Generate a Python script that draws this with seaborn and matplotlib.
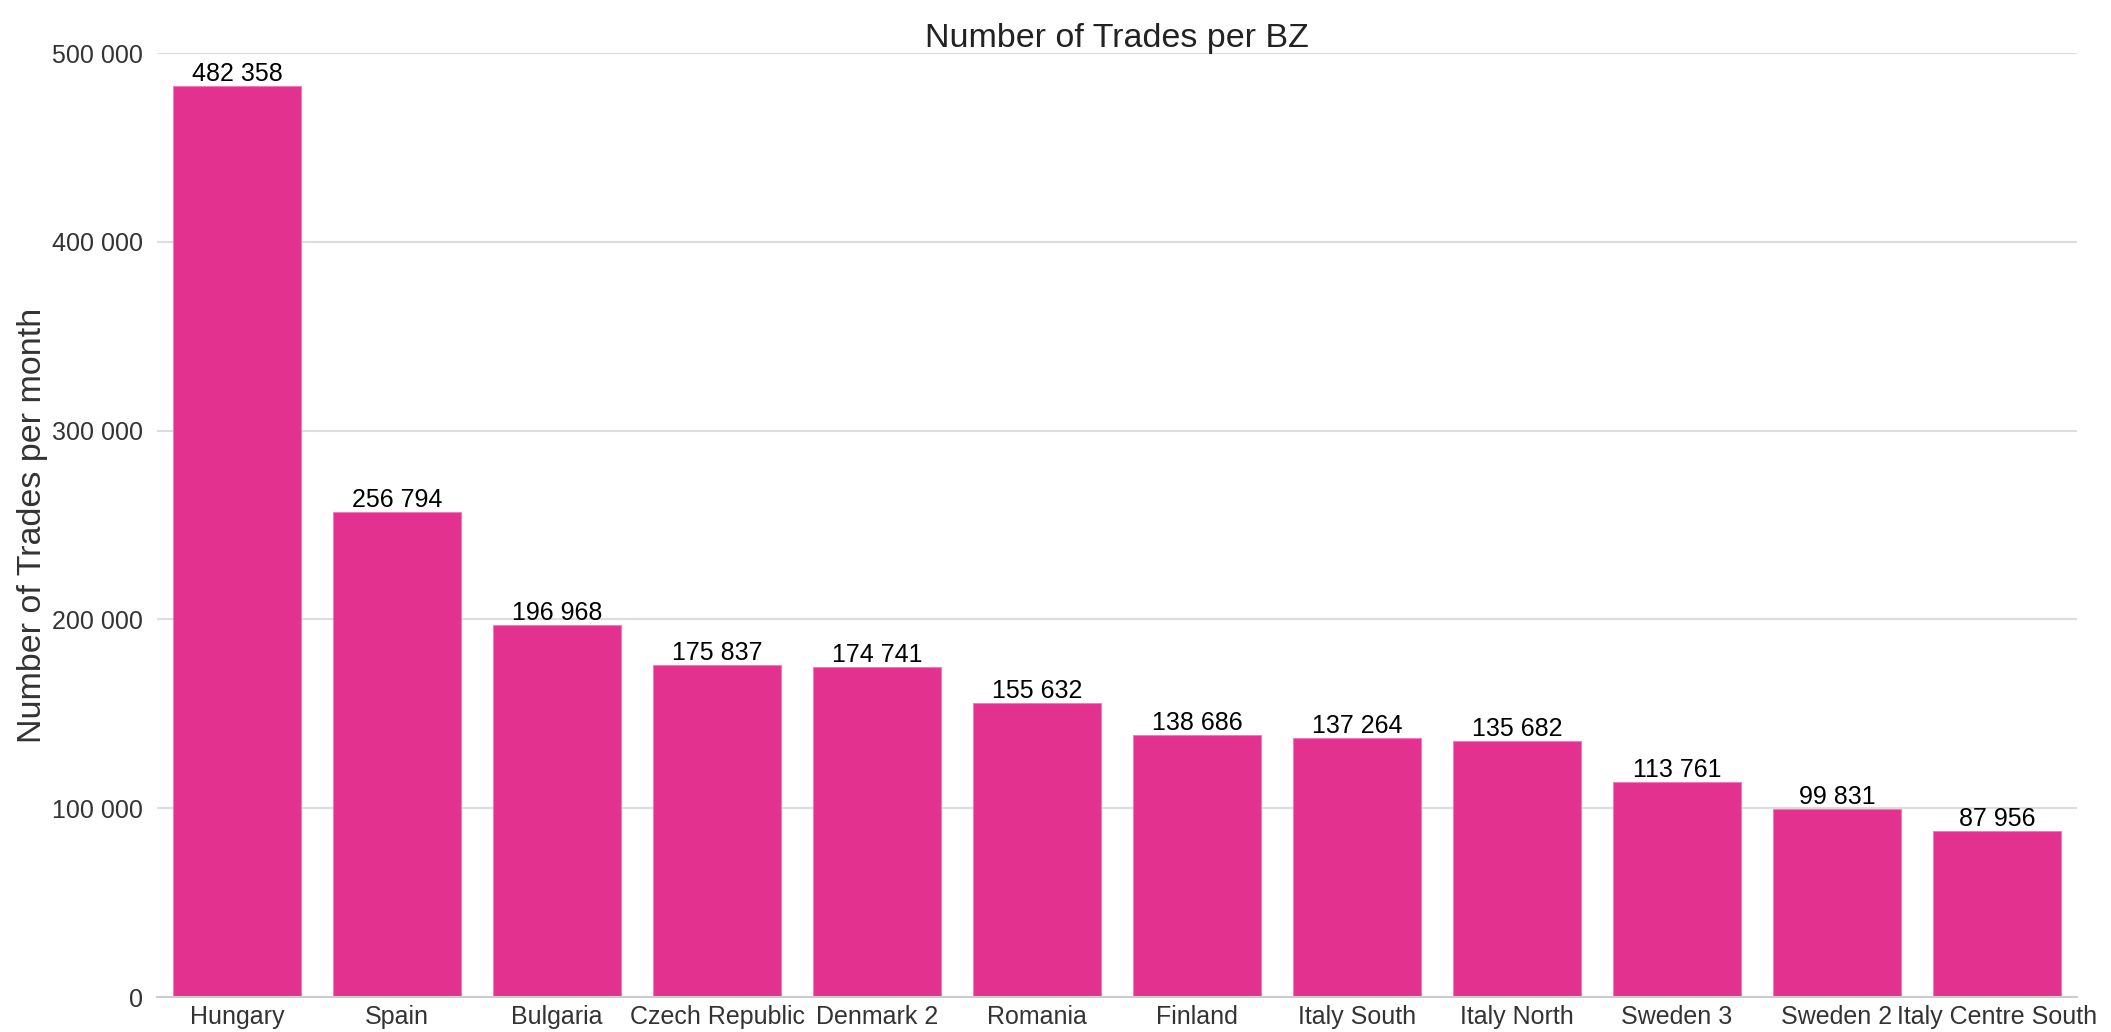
import matplotlib
matplotlib.use("Agg")
import matplotlib.pyplot as plt
import matplotlib.ticker as mticker
import seaborn as sns
import pandas as pd

# data
zones = ["Hungary", "Spain", "Bulgaria", "Czech Republic", "Denmark 2", "Romania",
         "Finland", "Italy South", "Italy North", "Sweden 3", "Sweden 2", "Italy Centre South"]
trades = [482358, 256794, 196968, 175837, 174741, 155632,
          138686, 137264, 135682, 113761, 99831, 87956]
y_ticks = [0, 100000, 200000, 300000, 400000, 500000]

BAR_COLOR = "#E2318F"


def fmt_space(v, pos=None):
	return "{:,}".format(int(v)).replace(",", " ")


def config_sns():
	sns.set_theme(style="whitegrid")
	plt.rcParams["font.family"] = ["Liberation Sans", "DejaVu Sans"]


def main():
	config_sns()
	df = pd.DataFrame({"zone": zones, "trades": trades})

	fig = plt.figure(figsize=(21.11, 10.32), dpi=100)
	ax = fig.add_axes([0.0744, 0.0339, 0.9095, 0.9147])

	sns.barplot(data=df, x="zone", y="trades", color=BAR_COLOR, saturation=1,
				width=0.8, edgecolor="#F07BB8", linewidth=0.8, ax=ax)

	for p, v in zip(ax.patches, trades):
		ax.text(p.get_x() + p.get_width() / 2, v, fmt_space(v),
				ha="center", va="bottom", fontsize=18, color="black")

	ax.set_ylim(0, 500000)
	ax.set_yticks(y_ticks)
	ax.yaxis.set_major_formatter(mticker.FuncFormatter(fmt_space))
	ax.set_xlabel("")
	ax.set_ylabel("Number of Trades per month", fontsize=24.5, color="#333333", labelpad=3)
	ax.set_title("Number of Trades per BZ", fontsize=24.5, color="#222222", pad=4)

	ax.tick_params(axis="both", labelsize=18, colors="#333333", length=0)
	ax.tick_params(axis="x", pad=6)
	ax.tick_params(axis="y", pad=10)
	ax.grid(axis="y", color="#DDDDDD", linewidth=1.5)
	ax.grid(axis="x", visible=False)
	for side in ["left", "right", "top"]:
		ax.spines[side].set_visible(False)
	ax.spines["bottom"].set_color("#CCCCCC")
	ax.spines["bottom"].set_linewidth(1.5)

	fig.savefig("out.png", dpi=100)


if __name__ == "__main__":
	main()
